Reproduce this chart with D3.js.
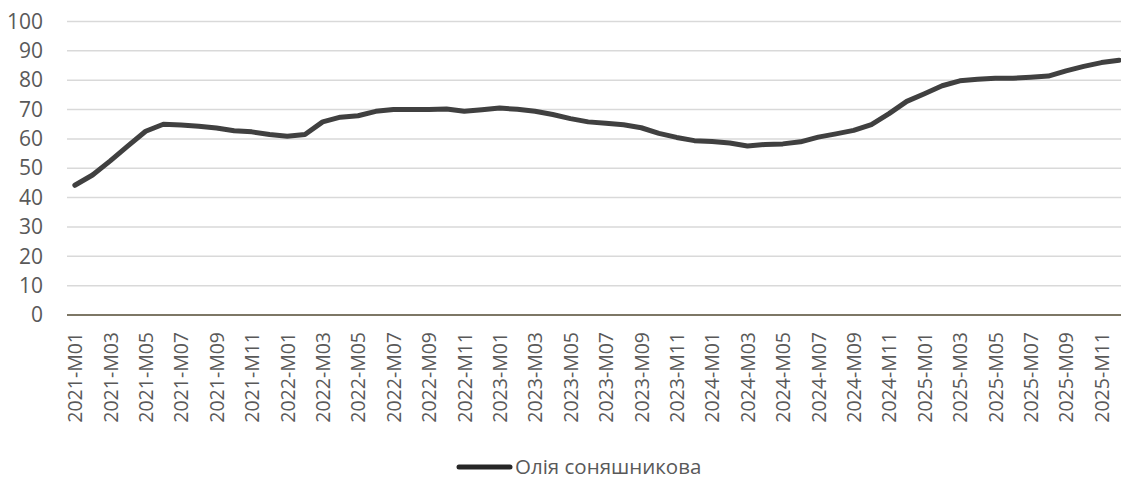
<!DOCTYPE html>
<html>
<head>
<meta charset="utf-8">
<script src="https://cdn.jsdelivr.net/npm/d3@7"></script>
<style>
  html, body { margin: 0; padding: 0; background: #fff; }
  svg { display: block; }
  text { font-family: "Open Sans", sans-serif; fill: #595959; }
</style>
</head>
<body>
<svg id="chart" width="1121" height="479"></svg>
<script>
// Monthly periods, 2021-M01 … 2025-M12
const years = [2021, 2022, 2023, 2024, 2025];
const months = ["M01","M02","M03","M04","M05","M06","M07","M08","M09","M10","M11","M12"];
const periods = years.flatMap(y => months.map(m => `${y}-${m}`));

// Олія соняшникова
const sunflowerOil = [
  44.2, 47.7, 52.5, 57.6, 62.6, 65.0, 64.7, 64.3, 63.7, 62.8, 62.4, 61.5,
  60.9, 61.5, 65.8, 67.4, 67.9, 69.4, 70.0, 70.0, 70.0, 70.2, 69.4, 69.9,
  70.5, 70.1, 69.4, 68.3, 66.9, 65.8, 65.3, 64.8, 63.8, 61.9, 60.5, 59.4,
  59.1, 58.6, 57.6, 58.1, 58.3, 59.0, 60.6, 61.7, 62.9, 64.9, 68.6, 72.8,
  75.4, 78.1, 79.8, 80.3, 80.7, 80.7, 81.0, 81.4, 83.2, 84.7, 86.0, 86.8
];

const yTicks = [0, 10, 20, 30, 40, 50, 60, 70, 80, 90, 100];
const seriesName = "Олія соняшникова";

const W = 1121, H = 479;
const svg = d3.select("#chart");

const x = d3.scalePoint().domain(periods).range([66, 1128]).padding(0.5);
const y = d3.scaleLinear().domain([0, 100]).range([315, 21.5]);

// horizontal gridlines
svg.append("g")
  .selectAll("line")
  .data(yTicks.filter(t => t > 0))
  .join("line")
  .attr("x1", 67).attr("x2", W)
  .attr("y1", d => y(d)).attr("y2", d => y(d))
  .attr("stroke", "#d9d9d9").attr("stroke-width", 1.5);

// y axis labels
const yAxis = d3.axisLeft(y).tickValues(yTicks).tickSize(0).tickPadding(0);
svg.append("g")
  .attr("transform", "translate(43,0)")
  .call(yAxis)
  .call(g => g.select(".domain").remove())
  .call(g => g.selectAll("text")
    .attr("font-size", 21)
    .attr("font-family", "Open Sans, sans-serif")
    .attr("fill", "#595959"));

// category axis line at zero
svg.append("line")
  .attr("x1", 67).attr("x2", W)
  .attr("y1", y(0)).attr("y2", y(0))
  .attr("stroke", "#524a33").attr("stroke-width", 1.5);

// category labels every second month, rotated
const xLabels = periods.filter((p, i) => i % 2 === 0);
const xAxis = d3.axisBottom(x).tickValues(xLabels).tickSize(0).tickPadding(0);
svg.append("g")
  .attr("transform", `translate(0,${y(0)})`)
  .call(xAxis)
  .call(g => g.select(".domain").remove())
  .call(g => g.selectAll("text")
    .attr("font-size", 19.5)
    .attr("font-family", "Open Sans, sans-serif")
    .attr("fill", "#595959")
    .attr("text-anchor", "end")
    .attr("dy", "0.35em")
    .attr("transform", "translate(0,17) rotate(-90)"));

// series line
const line = d3.line()
  .x((d, i) => x(periods[i]))
  .y(d => y(d));
svg.append("path")
  .datum(sunflowerOil)
  .attr("d", line)
  .attr("fill", "none")
  .attr("stroke", "#404040")
  .attr("stroke-width", 5)
  .attr("stroke-linejoin", "round")
  .attr("stroke-linecap", "round");

// legend
const legend = svg.append("g").attr("transform", "translate(0,467)");
legend.append("line")
  .attr("x1", 459).attr("x2", 510)
  .attr("y1", 0).attr("y2", 0)
  .attr("stroke", "#262626").attr("stroke-width", 5)
  .attr("stroke-linecap", "round");
legend.append("text")
  .attr("x", 515).attr("y", 0).attr("dy", "0.35em")
  .attr("font-size", 20.5)
  .text(seriesName);
</script>
</body>
</html>
